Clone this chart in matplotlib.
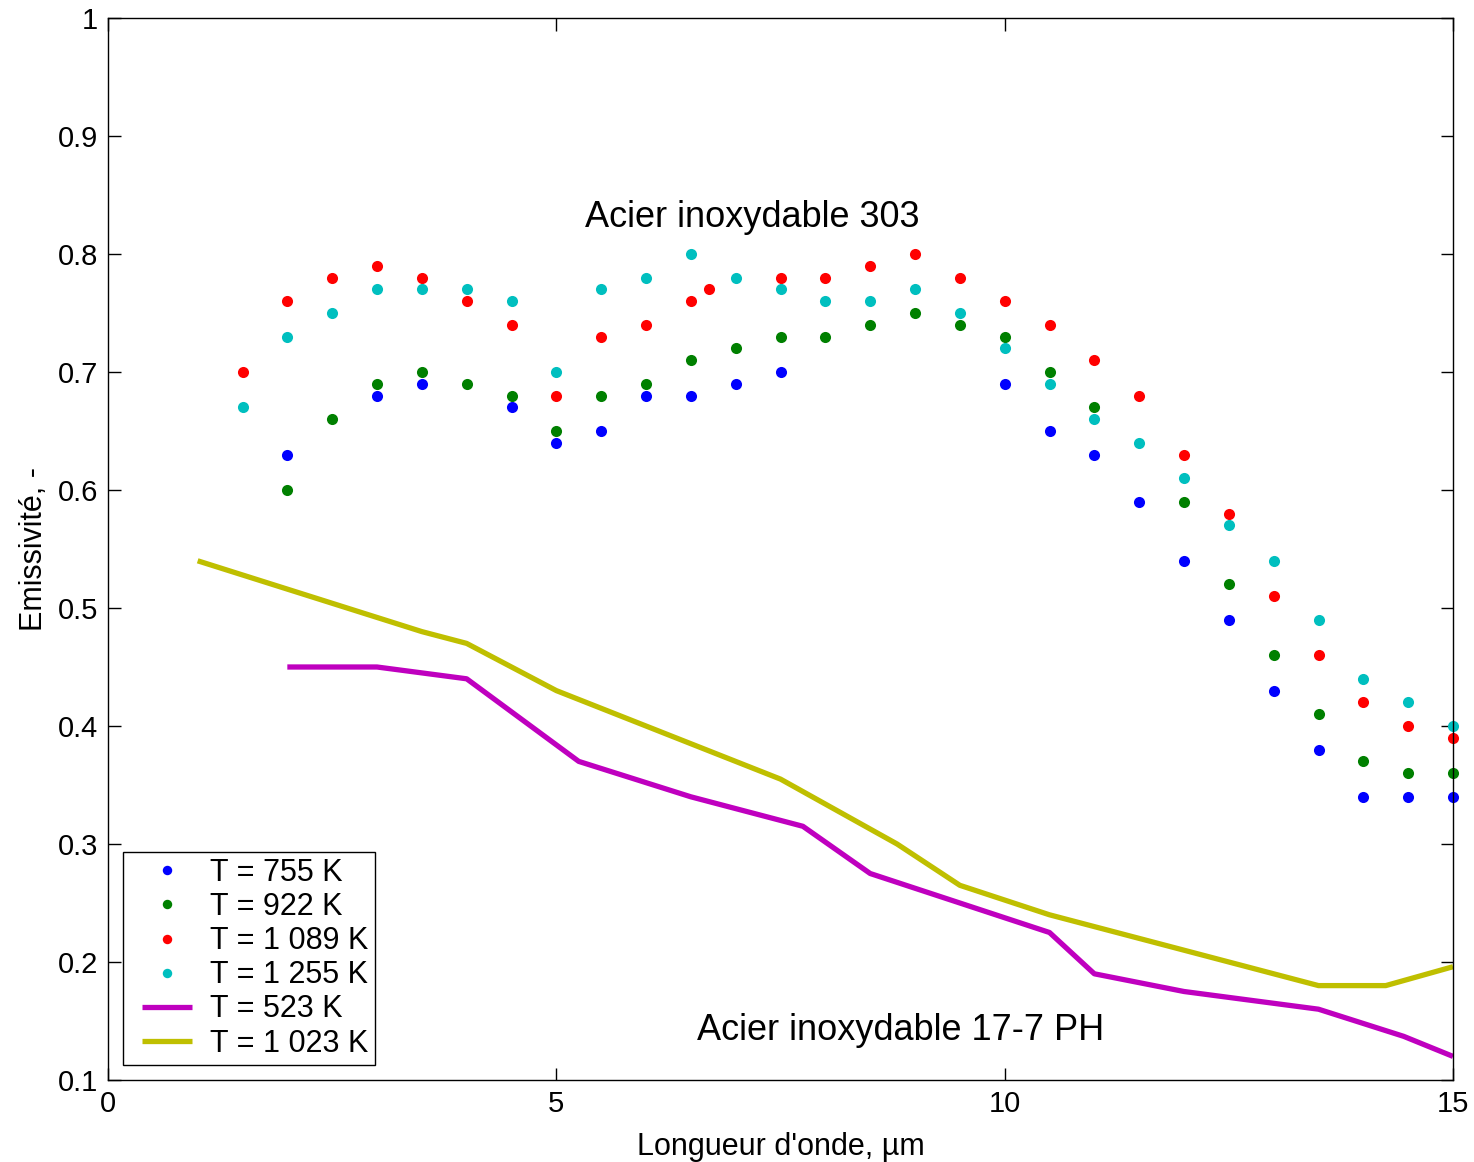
import matplotlib
matplotlib.use("Agg")
import matplotlib.pyplot as plt
from matplotlib.ticker import FuncFormatter
from matplotlib.legend_handler import HandlerLine2D

plt.rcParams['font.family'] = ['Liberation Sans', 'DejaVu Sans']

# Acier inoxydable 303 (points)
x_755 = [2, 3, 3.5, 4.5, 5, 5.5, 6, 6.5, 7, 7.5, 10, 10.5, 11, 11.5, 12, 12.5, 13, 13.5, 14, 14.5, 15]
y_755 = [0.63, 0.68, 0.69, 0.67, 0.64, 0.65, 0.68, 0.68, 0.69, 0.70, 0.69, 0.65, 0.63, 0.59, 0.54, 0.49, 0.43, 0.38, 0.34, 0.34, 0.34]

x_922 = [2, 2.5, 3, 3.5, 4, 4.5, 5, 5.5, 6, 6.5, 7, 7.5, 8, 8.5, 9, 9.5, 10, 10.5, 11, 12, 12.5, 13, 13.5, 14, 14.5, 15]
y_922 = [0.60, 0.66, 0.69, 0.70, 0.69, 0.68, 0.65, 0.68, 0.69, 0.71, 0.72, 0.73, 0.73, 0.74, 0.75, 0.74, 0.73, 0.70, 0.67, 0.59, 0.52, 0.46, 0.41, 0.37, 0.36, 0.36]

x_1089 = [1.5, 2, 2.5, 3, 3.5, 4, 4.5, 5, 5.5, 6, 6.5, 6.7, 7.5, 8, 8.5, 9, 9.5, 10, 10.5, 11, 11.5, 12, 12.5, 13, 13.5, 14, 14.5, 15]
y_1089 = [0.70, 0.76, 0.78, 0.79, 0.78, 0.76, 0.74, 0.68, 0.73, 0.74, 0.76, 0.77, 0.78, 0.78, 0.79, 0.80, 0.78, 0.76, 0.74, 0.71, 0.68, 0.63, 0.58, 0.51, 0.46, 0.42, 0.40, 0.39]

x_1255 = [1.5, 2, 2.5, 3, 3.5, 4, 4.5, 5, 5.5, 6, 6.5, 7, 7.5, 8, 8.5, 9, 9.5, 10, 10.5, 11, 11.5, 12, 12.5, 13, 13.5, 14, 14.5, 15]
y_1255 = [0.67, 0.73, 0.75, 0.77, 0.77, 0.77, 0.76, 0.70, 0.77, 0.78, 0.80, 0.78, 0.77, 0.76, 0.76, 0.77, 0.75, 0.72, 0.69, 0.66, 0.64, 0.61, 0.57, 0.54, 0.49, 0.44, 0.42, 0.40]

# Acier inoxydable 17-7 PH (lines)
x_523 = [2, 3, 4, 5.25, 6.5, 7.75, 8.5, 10.5, 11, 12, 13.5, 14.45, 15]
y_523 = [0.45, 0.45, 0.44, 0.37, 0.34, 0.315, 0.275, 0.225, 0.19, 0.175, 0.16, 0.137, 0.12]

x_1023 = [1, 3.5, 4, 5, 7.5, 8.8, 9.5, 10.5, 13.5, 14.25, 15]
y_1023 = [0.54, 0.48, 0.47, 0.43, 0.355, 0.30, 0.265, 0.24, 0.18, 0.18, 0.196]

labels = ['T = 755 K', 'T = 922 K', 'T = 1 089 K', 'T = 1 255 K', 'T = 523 K', 'T = 1 023 K']
x_ticks = [0, 5, 10, 15]
y_ticks = [0.1, 0.2, 0.3, 0.4, 0.5, 0.6, 0.7, 0.8, 0.9, 1.0]

fig = plt.figure(figsize=(14.74, 11.62), dpi=100)
ax = fig.add_axes([108/1474, 82/1162, (1453-108)/1474, (1080-18)/1162])

ms = 8
ax.plot(x_755, y_755, 'o', color=(0, 0, 1), ms=ms, mec='none', label=labels[0], clip_on=False)
ax.plot(x_922, y_922, 'o', color=(0, 0.5, 0), ms=ms, mec='none', label=labels[1], clip_on=False)
ax.plot(x_1089, y_1089, 'o', color=(1, 0, 0), ms=ms, mec='none', label=labels[2], clip_on=False)
ax.plot(x_1255, y_1255, 'o', color=(0, 0.75, 0.75), ms=ms, mec='none', label=labels[3], clip_on=False)
ax.plot(x_523, y_523, '-', color=(0.75, 0, 0.75), lw=3.8, label=labels[4], solid_capstyle='butt')
ax.plot(x_1023, y_1023, '-', color=(0.75, 0.75, 0), lw=3.8, label=labels[5], solid_capstyle='butt')

ax.set_xlim(0, 15)
ax.set_ylim(0.1, 1.0)
ax.set_xticks(x_ticks)
ax.set_yticks(y_ticks)
ax.yaxis.set_major_formatter(FuncFormatter(lambda v, p: '%g' % round(v, 2)))
ax.tick_params(direction='in', length=9, width=1, top=True, right=True,
               labelsize=21, pad=7)
for s in ax.spines.values():
    s.set_linewidth(1.0)
    s.set_color('black')

ax.set_xlabel("Longueur d'onde, µm", fontsize=22, labelpad=10)
ax.set_ylabel("Emissivité, -", fontsize=22, labelpad=6.5)

ax.text(7.18, 0.831, 'Acier inoxydable 303', fontsize=26, ha='center', va='center')
ax.text(6.57, 0.142, 'Acier inoxydable 17-7 PH', fontsize=26, ha='left', va='center')

hmap = {}
for ln in ax.get_lines():
    hmap[ln] = HandlerLine2D(xpad=0.4, numpoints=1)
leg = ax.legend(loc='lower left', fontsize=22, frameon=True, fancybox=False,
                edgecolor='black', framealpha=1, borderaxespad=0.5,
                handlelength=2.05, handletextpad=0.6, labelspacing=0.135,
                borderpad=0.2, numpoints=1, markerscale=0.85, handler_map=hmap)
leg.get_frame().set_linewidth(1.0)

fig.savefig('out.png', dpi=100)
